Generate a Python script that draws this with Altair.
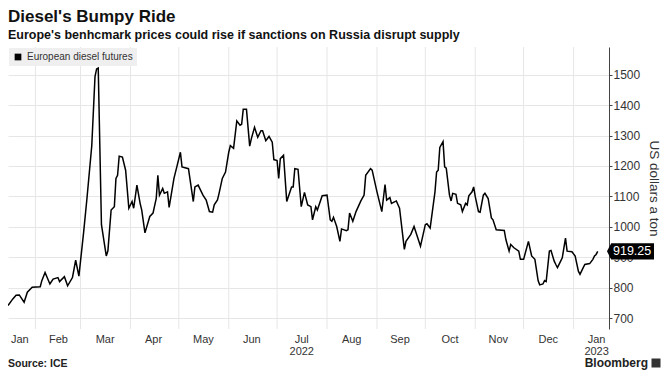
import altair as alt
import pandas as pd

# ---- data ----
dates = [
    "2022-01-15", "2022-01-18", "2022-01-20", "2022-01-22", "2022-01-25", "2022-01-27", "2022-01-30",
    "2022-02-04", "2022-02-05", "2022-02-07", "2022-02-10", "2022-02-12", "2022-02-15", "2022-02-16",
    "2022-02-19", "2022-02-21", "2022-02-24", "2022-02-26", "2022-02-28",
    "2022-03-03", "2022-03-05", "2022-03-08", "2022-03-10", "2022-03-11", "2022-03-12", "2022-03-14",
    "2022-03-17", "2022-03-18", "2022-03-20", "2022-03-22", "2022-03-23", "2022-03-24", "2022-03-25",
    "2022-03-27", "2022-03-29", "2022-03-31",
    "2022-04-02", "2022-04-03", "2022-04-05", "2022-04-07", "2022-04-08", "2022-04-10", "2022-04-13",
    "2022-04-15", "2022-04-17", "2022-04-18", "2022-04-19", "2022-04-21", "2022-04-22", "2022-04-24",
    "2022-04-25", "2022-04-28", "2022-04-30",
    "2022-05-02", "2022-05-03", "2022-05-07", "2022-05-10", "2022-05-11", "2022-05-13", "2022-05-16",
    "2022-05-18", "2022-05-20", "2022-05-22", "2022-05-23", "2022-05-25", "2022-05-26", "2022-05-28",
    "2022-05-30",
    "2022-06-01", "2022-06-02", "2022-06-04", "2022-06-06", "2022-06-08", "2022-06-09", "2022-06-10",
    "2022-06-12", "2022-06-14", "2022-06-15", "2022-06-17", "2022-06-19", "2022-06-21", "2022-06-22",
    "2022-06-24", "2022-06-26", "2022-06-28", "2022-06-29",
    "2022-07-01", "2022-07-02", "2022-07-03", "2022-07-05", "2022-07-07", "2022-07-10", "2022-07-11",
    "2022-07-12", "2022-07-14", "2022-07-16", "2022-07-18", "2022-07-20", "2022-07-22", "2022-07-23",
    "2022-07-25", "2022-07-26", "2022-07-29",
    "2022-08-01", "2022-08-03", "2022-08-04", "2022-08-05", "2022-08-07", "2022-08-09", "2022-08-10",
    "2022-08-13", "2022-08-14", "2022-08-15", "2022-08-17", "2022-08-19", "2022-08-22", "2022-08-24",
    "2022-08-25", "2022-08-28", "2022-08-29",
    "2022-09-01", "2022-09-04", "2022-09-06", "2022-09-07", "2022-09-09", "2022-09-10", "2022-09-13",
    "2022-09-15", "2022-09-18", "2022-09-19", "2022-09-22", "2022-09-24", "2022-09-28",
    "2022-10-01", "2022-10-02", "2022-10-04", "2022-10-07", "2022-10-08", "2022-10-09", "2022-10-10",
    "2022-10-12", "2022-10-13", "2022-10-14", "2022-10-16", "2022-10-17", "2022-10-18", "2022-10-20",
    "2022-10-21", "2022-10-23", "2022-10-24", "2022-10-26", "2022-10-27", "2022-10-28", "2022-10-30",
    "2022-10-31",
    "2022-11-01", "2022-11-03", "2022-11-04", "2022-11-06", "2022-11-07", "2022-11-09", "2022-11-11",
    "2022-11-12", "2022-11-14", "2022-11-19", "2022-11-20", "2022-11-22", "2022-11-23", "2022-11-25",
    "2022-11-28", "2022-11-29",
    "2022-12-01", "2022-12-04", "2022-12-06", "2022-12-08", "2022-12-10", "2022-12-11", "2022-12-13",
    "2022-12-14", "2022-12-15", "2022-12-17", "2022-12-18", "2022-12-20", "2022-12-21", "2022-12-22",
    "2022-12-24", "2022-12-25", "2022-12-27", "2022-12-28", "2022-12-31",
    "2023-01-02", "2023-01-04", "2023-01-05", "2023-01-07", "2023-01-08", "2023-01-11", "2023-01-13",
    "2023-01-14", "2023-01-15", "2023-01-16",
]
prices = [
    741, 763, 775, 776, 752, 785, 801,
    803, 823, 850, 812, 828, 833, 820,
    836, 806, 833, 890, 838,
    985, 1093, 1267, 1494, 1519, 1522, 1007,
    904, 921, 1055, 1066, 1159, 1169, 1232,
    1229, 1186, 1061,
    1083, 1061, 1137, 1077, 1055, 980, 1034,
    1045, 1093, 1169, 1104, 1126, 1110, 1115,
    1064, 1159, 1202,
    1245, 1197, 1191, 1083, 1131, 1137, 1104,
    1088, 1050, 1048, 1072, 1088, 1110, 1159,
    1180,
    1245, 1267, 1258, 1348, 1334, 1337, 1386,
    1386, 1265, 1289, 1327, 1294, 1316, 1316,
    1283, 1297, 1278, 1221,
    1218, 1159, 1224, 1235, 1083, 1131, 1131,
    1191, 1189, 1066, 1113, 1072, 1066, 1023,
    1066, 1055, 1102,
    1104, 1023, 1018, 1031, 1001, 952, 993,
    987, 990, 1045, 1018, 1050, 1085, 1104,
    1169, 1191, 1186,
    1115, 1050, 1139, 1088, 1096, 1077, 1085,
    1061, 926, 952, 975, 1001, 936,
    1007, 1010, 996, 1115, 1180, 1186, 1261,
    1280, 1197, 1193, 1104, 1085, 1110, 1107,
    1077, 1072, 1050, 1077, 1072, 1102, 1115,
    1131,
    1099, 1050, 1048, 1104, 1110, 1093, 1029,
    1023, 990, 988, 958, 920, 942, 931,
    920, 893,
    893, 952, 904, 893, 823, 809, 812,
    823, 820, 920, 922, 887, 876, 866,
    887, 898, 963, 920, 918,
    904, 854, 844, 866, 876, 879, 893,
    904, 909, 919.25,
]
series_name = "European diesel futures"
last_value = [919.25]
last_label = ["919.25"]

month_starts = [
    "2022-02-01", "2022-03-01", "2022-04-01", "2022-05-01", "2022-06-01", "2022-07-01",
    "2022-08-01", "2022-09-01", "2022-10-01", "2022-11-01", "2022-12-01", "2023-01-01",
]
# month labels sit in the middle of each month (first one nudged into view)
label_days = [
    (2022, 1, 22), (2022, 2, 15), (2022, 3, 16), (2022, 4, 15), (2022, 5, 16), (2022, 6, 15),
    (2022, 7, 16), (2022, 8, 16), (2022, 9, 15), (2022, 10, 16), (2022, 11, 15), (2022, 12, 16),
    (2023, 1, 15),
]
y_ticks = [700, 800, 900, 1000, 1100, 1200, 1300, 1400, 1500]

df = pd.DataFrame({"date": dates, "price": prices, "series": series_name})
grid_df = pd.DataFrame({"date": month_starts})
last_df = pd.DataFrame({"price": last_value, "label": last_label})

W, H = 601, 282
FONT = "Liberation Sans"

x_scale = alt.Scale(
    type="utc",
    domain=[alt.DateTime(year=2022, month=1, date=15, utc=True),
            alt.DateTime(year=2023, month=1, date=23, utc=True)],
)
y_scale = alt.Scale(domain=[664, 1591], nice=False, zero=False)

label_expr = (
    "utcyear(datum.value) == 2023 ? ['Jan', '2023'] : "
    "(utcmonth(datum.value) == 6 ? ['Jul', '2022'] : utcFormat(datum.value, '%b'))"
)

x_axis = alt.Axis(
    values=[alt.DateTime(year=y, month=m, date=d, utc=True) for (y, m, d) in label_days],
    labelExpr=label_expr,
    grid=False, ticks=False, domain=False, title=None,
    labelFont=FONT, labelFontSize=11, labelColor="#333333", labelPadding=4,
    labelFlush=False, labelOverlap=False, labelLineHeight=12,
)
y_axis = alt.Axis(
    orient="right", values=y_ticks, format="d", labelOverlap=False, title="US dollars a ton",
    grid=True, gridColor="#e6e6e6", gridWidth=1,
    domain=True, domainColor="#444444", domainWidth=1,
    ticks=True, tickColor="#444444", tickSize=3,
    labelFont=FONT, labelFontSize=12, labelColor="#333333", labelPadding=1,
    titleFont=FONT, titleFontSize=13.5, titleFontWeight="normal", titleColor="#333333",
    titlePadding=7,
)

grid = alt.Chart(grid_df).mark_rule(color="#e6e6e6", strokeWidth=1).encode(
    x=alt.X("date:T", scale=x_scale, axis=x_axis)
)

line = alt.Chart(df).mark_line(strokeWidth=1.5).encode(
    x=alt.X("date:T", scale=x_scale, axis=x_axis),
    y=alt.Y("price:Q", scale=y_scale, axis=y_axis),
    color=alt.Color(
        "series:N",
        scale=alt.Scale(domain=[series_name], range=["#000000"]),
        legend=alt.Legend(
            orient="top-left", title=None, fillColor="#efefef", padding=4, offset=1,
            symbolType="square", symbolSize=45, symbolFillColor="#000000",
            symbolStrokeColor="#000000", symbolStrokeWidth=0,
            labelFont=FONT, labelFontSize=10, labelColor="#333333", labelLimit=300,
        ),
    ),
)

tag = alt.Chart(last_df).mark_point(
    shape="M-1,0 L-0.82,-0.35 L1,-0.35 L1,0.35 L-0.82,0.35 Z",
    filled=True, color="#000000", opacity=1, size=2209, xOffset=21.5,
).encode(x=alt.value(W), y=alt.Y("price:Q", scale=y_scale, axis=y_axis))

tag_text = alt.Chart(last_df).mark_text(
    align="left", baseline="middle", color="#ffffff", font=FONT, fontSize=12.5, dx=4,
).encode(x=alt.value(W), y=alt.Y("price:Q", scale=y_scale, axis=y_axis), text="label:N")

source = alt.Chart(last_df).mark_text(
    align="left", baseline="alphabetic", font=FONT, fontSize=10.5, fontWeight="bold", color="#222222",
    text="Source: ICE",
).encode(x=alt.value(0), y=alt.value(H + 38))

brand = alt.Chart(last_df).mark_text(
    align="right", baseline="alphabetic", font=FONT, fontSize=12, fontWeight="bold", color="#222222",
    text="Bloomberg",
).encode(x=alt.value(W + 39), y=alt.value(H + 38))

brand_icon = alt.Chart(last_df).mark_point(
    shape="square", filled=True, color="#333333", opacity=1, size=81,
).encode(x=alt.value(W + 47), y=alt.value(H + 34))

chart = alt.layer(grid, line, tag, tag_text, source, brand, brand_icon).properties(
    width=W, height=H,
    autosize=alt.AutoSizeParams(type="none"),
    padding={"top": 39, "left": 0, "right": 55, "bottom": 41},
    title=alt.TitleParams(
        text="Diesel's Bumpy Ride",
        subtitle="Europe's benhcmark prices could rise if sanctions on Russia disrupt supply",
        anchor="start", orient="top", offset=4, frame="group",
        font=FONT, fontSize=17, fontWeight="bold", color="#111111",
        subtitleFont=FONT, subtitleFontSize=12.5, subtitleFontWeight="bold", subtitleColor="#111111",
        subtitlePadding=3,
    ),
).configure_view(stroke=None)

chart.save("out.html", embed_options={"renderer": "svg", "actions": False})
